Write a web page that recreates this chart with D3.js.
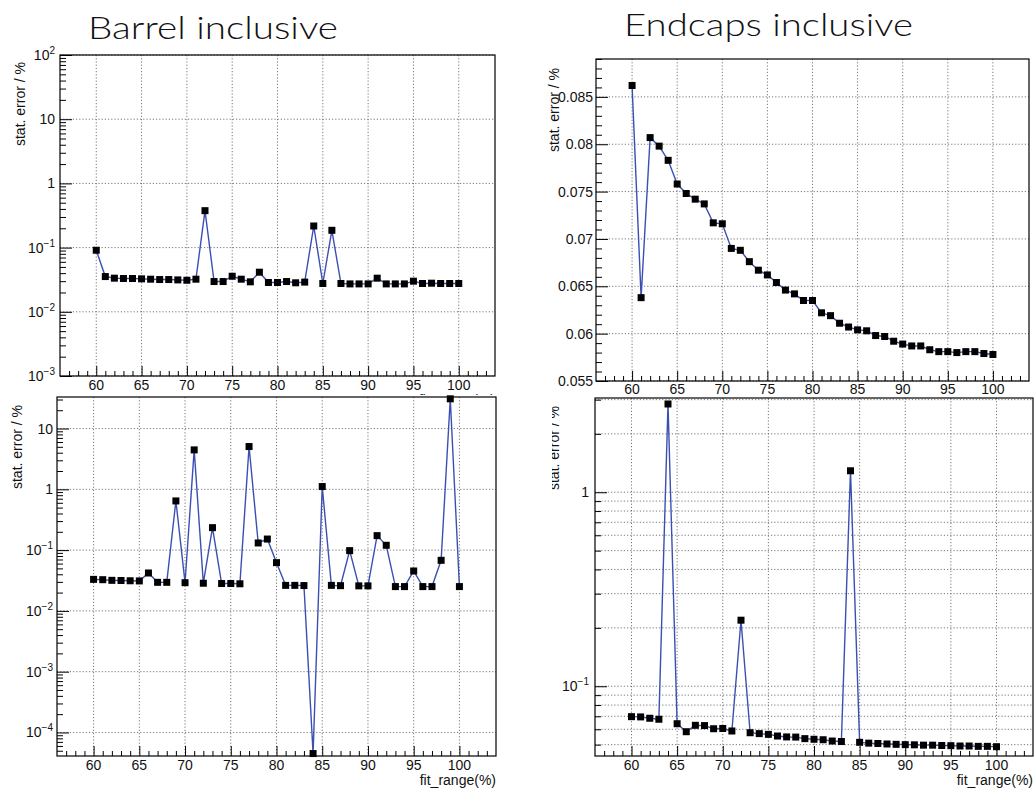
<!DOCTYPE html>
<html><head><meta charset="utf-8">
<script src="https://cdn.jsdelivr.net/npm/d3@7"></script>
<style>
body{margin:0;background:#fff;}
svg{display:block;}
text{font-family:"Liberation Sans",Arial,Helvetica,sans-serif;fill:#111;}
</style>
</head><body>
<svg id="c" width="1035" height="791"></svg>
<script>
// ---- data ----
const fitRange = [60,61,62,63,64,65,66,67,68,69,70,71,72,73,74,75,76,77,78,79,80,
                  81,82,83,84,85,86,87,88,89,90,91,92,93,94,95,96,97,98,99,100];
const barrelTop = [0.091,0.0354,0.0334,0.033,0.033,0.0326,0.0322,0.0318,0.0318,0.0314,0.031,
                   0.0322,0.376,0.0296,0.0296,0.0358,0.0322,0.0293,0.0414,0.0286,0.0286,
                   0.0296,0.0283,0.029,0.217,0.0276,0.186,0.0276,0.0272,0.0272,0.0272,
                   0.0334,0.0272,0.0272,0.0272,0.030,0.0276,0.0279,0.0276,0.0276,0.0276];
const endcapsTop = [0.0862,0.0638,0.0807,0.0798,0.0783,0.0758,0.0748,0.0742,0.0737,0.0717,0.0716,
                    0.0690,0.0688,0.0676,0.0667,0.0662,0.0654,0.0646,0.0642,0.0635,0.0635,
                    0.0622,0.0619,0.0611,0.0607,0.0604,0.0603,0.0598,0.0597,0.0592,0.0589,
                    0.0587,0.0587,0.0583,0.0581,0.0581,0.0580,0.0581,0.0581,0.0579,0.0578];
const barrelBottom = [0.0330,0.0326,0.0318,0.0316,0.0313,0.0311,0.0420,0.0295,0.0295,0.644,0.0291,
                      4.45,0.0285,0.234,0.0282,0.0282,0.0279,5.05,0.131,0.152,0.0622,
                      0.0263,0.0263,0.0261,0.000045,1.11,0.0263,0.026,0.098,0.0258,0.0258,
                      0.173,0.120,0.0251,0.0251,0.0453,0.0251,0.0251,0.0679,30.8,0.0251];
const endcapsBottom = [0.0697,0.0695,0.0684,0.0676,2.85,0.0641,0.0583,0.0629,0.0627,0.0604,0.0606,
                       0.0588,0.219,0.0576,0.0570,0.0565,0.0554,0.0548,0.0547,0.0537,0.0533,
                       0.0530,0.0522,0.0519,1.29,0.0514,0.0509,0.0507,0.0504,0.0502,0.0500,
                       0.0499,0.0497,0.0497,0.0495,0.0494,0.0492,0.0492,0.0490,0.0490,0.0488];

const xTickLabels = [60,65,70,75,80,85,90,95,100];
const xDomain = [56,104];
const barrelTopYTicks = [0.001,0.01,0.1,1,10,100];
const endcapsTopYTicks = [0.055,0.06,0.065,0.07,0.075,0.08,0.085];
const barrelBottomYTicks = [0.0001,0.001,0.01,0.1,1,10];
const endcapsBottomYTicks = [0.1,1];
const endcapsBottomGrid = [0.05,0.06,0.07,0.08,0.09,0.1,0.2,0.3,0.4,0.5,0.6,0.7,0.8,0.9,1,2,3];

const titles = ["Barrel inclusive","Endcaps inclusive"];
const yTitle = "stat. error / %";
const xTitle = "fit_range(%)";

// ---- drawing ----
const svg = d3.select("#c");
svg.append("rect").attr("width",1035).attr("height",791).attr("fill","#fff");

function powLabel(sel, v){
  const e = Math.round(Math.log10(v));
  if (e === 0) { sel.text("1"); return; }
  if (e === 1) { sel.text("10"); return; }
  sel.append("tspan").text("10");
  sel.append("tspan").attr("dy",-6).attr("font-size",10).text(e < 0 ? "\u2212" + (-e) : String(e));
}

function drawPanel(cfg){
  const g = svg.append("g");
  if (cfg.pad) g.append("rect").attr("x",cfg.pad[0]).attr("y",cfg.pad[1])
      .attr("width",cfg.pad[2]).attr("height",cfg.pad[3]).attr("fill","#fff");
  const {L,R,T,B} = cfg;
  const x = d3.scaleLinear().domain(xDomain).range([L,R]);
  const y = (cfg.log ? d3.scaleLog() : d3.scaleLinear()).domain(cfg.yDomain).range([B,T]);

  // grid
  const gridStyle = s => s.attr("stroke","#555").attr("stroke-width",0.8).attr("stroke-dasharray","1.2,2");
  g.selectAll(null).data(xTickLabels).enter().append("line")
    .attr("x1",d=>x(d)).attr("x2",d=>x(d)).attr("y1",T).attr("y2",B).call(gridStyle);
  g.selectAll(null).data(cfg.yGrid).enter().append("line")
    .attr("x1",L).attr("x2",R).attr("y1",d=>y(d)).attr("y2",d=>y(d)).call(gridStyle);

  // x axis (ticks inward)
  const xMinor = d3.range(57,104,1).filter(v=>v%5!==0);
  const xAxisMajor = d3.axisTop(x).tickValues(xTickLabels).tickSize(10).tickFormat("");
  const xAxisMinor = d3.axisTop(x).tickValues(xMinor).tickSize(5).tickFormat("");
  [xAxisMajor, xAxisMinor].forEach(ax=>{
    const a = g.append("g").attr("transform",`translate(0,${B})`).call(ax);
    a.select(".domain").remove();
    a.selectAll("line").attr("stroke","#000").attr("stroke-width",1);
  });
  g.selectAll(null).data(xTickLabels).enter().append("text")
    .attr("x",d=>x(d)).attr("y",B+cfg.xLabOff).attr("text-anchor","middle")
    .attr("font-size",14).text(d=>d);

  // y axis ticks
  let yMinor;
  if (cfg.log){
    yMinor = [];
    const lo = Math.floor(Math.log10(cfg.yDomain[0])), hi = Math.ceil(Math.log10(cfg.yDomain[1]));
    for (let e=lo;e<=hi;e++) for (let k=2;k<=9;k++){
      const v = k*Math.pow(10,e);
      if (v>=cfg.yDomain[0] && v<=cfg.yDomain[1]) yMinor.push(v);
    }
  } else {
    yMinor = d3.range(Math.round(cfg.yDomain[0]*1000), Math.round(cfg.yDomain[1]*1000)+1)
      .map(v=>v/1000).filter(v=>Math.round(v*1000)%5!==0);
  }
  const yAxisMajor = d3.axisRight(y).tickValues(cfg.yTicks).tickSize(12).tickFormat("");
  const yAxisMinor = d3.axisRight(y).tickValues(yMinor).tickSize(6).tickFormat("");
  [yAxisMajor, yAxisMinor].forEach(ax=>{
    const a = g.append("g").attr("transform",`translate(${L},0)`).call(ax);
    a.select(".domain").remove();
    a.selectAll("line").attr("stroke","#000").attr("stroke-width",1);
  });
  const yl = g.selectAll(null).data(cfg.yTicks).enter().append("text")
    .attr("x",L-cfg.yLabOff).attr("y",d=>y(d)+5).attr("text-anchor","end").attr("font-size",14);
  if (cfg.log) yl.each(function(d){ powLabel(d3.select(this), d); });
  else yl.text(d=>d3.format(".3~f")(d));

  // frame
  g.append("rect").attr("x",L).attr("y",T).attr("width",R-L).attr("height",B-T)
    .attr("fill","none").attr("stroke","#000").attr("stroke-width",1.2);

  // series
  const pts = fitRange.map((v,i)=>[v,cfg.values[i]]);
  g.append("path").datum(pts)
    .attr("d", d3.line().x(d=>x(d[0])).y(d=>y(d[1])))
    .attr("fill","none").attr("stroke","#3b4fb3").attr("stroke-width",1.4);
  g.selectAll(null).data(pts).enter().append("rect")
    .attr("x",d=>x(d[0])-3.5).attr("y",d=>y(d[1])-3.5).attr("width",7).attr("height",7)
    .attr("fill","#000");

  // axis titles
  g.append("text").attr("x",R).attr("y",B+29).attr("text-anchor","end")
    .attr("font-size",14).text(xTitle);
  let tg = g;
  if (cfg.yTitleClip){
    const id = "clip" + Math.random().toString(36).slice(2);
    svg.append("clipPath").attr("id",id).attr("clipPathUnits","userSpaceOnUse").append("rect")
      .attr("x",cfg.yTitleClip).attr("y",0).attr("width",100).attr("height",791);
    tg = g.append("g").attr("clip-path",`url(#${id})`);
  }
  tg.append("text").attr("transform",`translate(${cfg.yTitlePos[0]},${cfg.yTitlePos[1]}) rotate(-90)`)
    .attr("text-anchor","end").attr("font-size",14).text(yTitle);
}

drawPanel({L:60,R:495,T:55,B:376,log:true,yDomain:[0.001,100],yTicks:barrelTopYTicks,
  yGrid:barrelTopYTicks,values:barrelTop,xLabOff:14,yLabOff:5,yTitlePos:[25,62]});
drawPanel({L:596,R:1029,T:59,B:381,log:false,yDomain:[0.055,0.089],yTicks:endcapsTopYTicks,
  yGrid:endcapsTopYTicks,values:endcapsTop,xLabOff:13,yLabOff:3,yTitlePos:[559,68]});
drawPanel({pad:[0,395,517,396],L:57,R:496,T:397,B:756,log:true,yDomain:[0.000041,33],
  yTicks:barrelBottomYTicks,yGrid:barrelBottomYTicks,values:barrelBottom,xLabOff:14,yLabOff:4,
  yTitlePos:[22,405]});
drawPanel({pad:[517,396,518,395],L:595,R:1033,T:398,B:756,log:true,yDomain:[0.0437,3.06],
  yTicks:endcapsBottomYTicks,yGrid:endcapsBottomGrid,values:endcapsBottom,xLabOff:14,yLabOff:6,
  yTitlePos:[559,406],yTitleClip:552});

// titles
svg.append("text").attr("x",88).attr("y",38.5).style("font-family","Lato, 'Noto Sans', sans-serif")
  .style("font-weight",300).attr("font-size",32).attr("textLength",250)
  .attr("lengthAdjust","spacingAndGlyphs").text(titles[0]);
svg.append("text").attr("x",624).attr("y",36).style("font-family","Lato, 'Noto Sans', sans-serif")
  .style("font-weight",300).attr("font-size",31).attr("textLength",289)
  .attr("lengthAdjust","spacingAndGlyphs").text(titles[1]);
</script>
</body></html>
